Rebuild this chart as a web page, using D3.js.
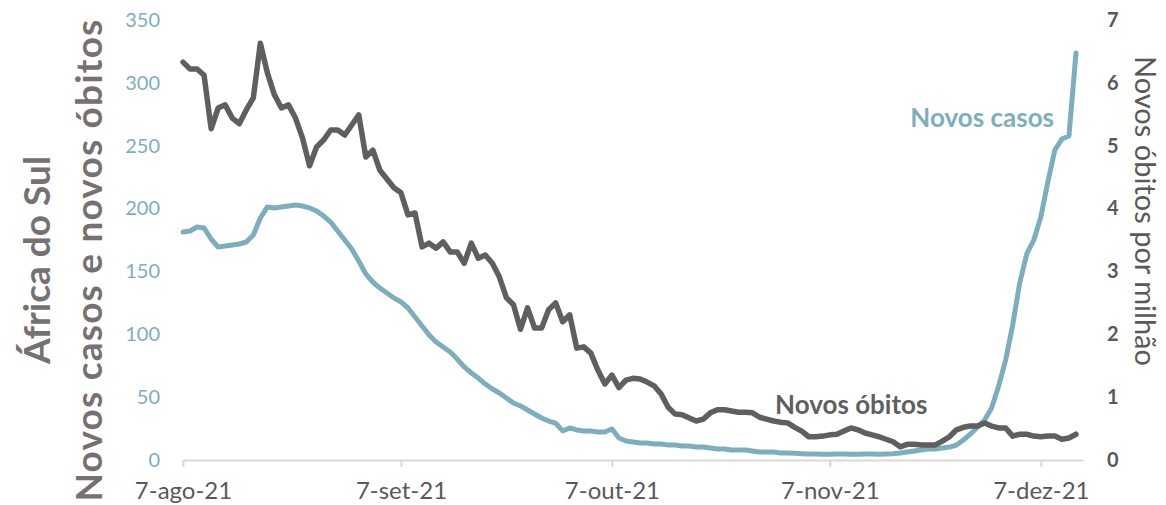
<!DOCTYPE html>
<html>
<head>
<meta charset="utf-8">
<script src="https://cdn.jsdelivr.net/npm/d3@7"></script>
<style>
  html, body { margin: 0; padding: 0; background: #fff; }
  svg { display: block; font-family: Lato, "Open Sans", sans-serif; }
</style>
</head>
<body>
<svg id="chart" width="1166" height="505"></svg>
<script>
// Daily series for South Africa, 7 Aug 2021 onward (one value per day)
const startDate = Date.UTC(2021, 7, 7);

// New cases (left axis)
const novosCasos = [
  181.4, 182.2, 185.3, 184.5, 175.8, 169.4, 170.2, 171.0, 171.8, 173.4,
  179.0, 192.5, 201.3, 200.5, 201.3, 202.0, 202.8, 202.0, 200.5, 198.1,
  194.1, 189.3, 182.2, 175.0, 167.8, 158.3, 148.0, 141.6, 136.8, 132.8,
  128.9, 125.7, 120.9, 113.8, 106.6, 99.4, 93.9, 89.9, 85.9, 80.3,
  74.0, 69.2, 65.2, 60.4, 56.5, 53.3, 49.3, 45.3, 43.0, 39.8,
  36.6, 33.4, 31.0, 29.4, 23.1, 25.5, 23.9, 23.1, 23.1, 22.3,
  22.3, 24.7, 17.5, 15.1, 14.3, 13.5, 13.5, 12.7, 12.7, 11.9,
  11.9, 11.1, 11.1, 10.3, 10.3, 9.5, 8.8, 8.8, 8.0, 8.0,
  8.0, 7.2, 6.4, 6.4, 6.4, 5.6, 5.5, 5.3, 5.0, 4.8,
  4.8, 4.6, 4.6, 4.8, 4.8, 4.6, 4.6, 4.8, 4.8, 4.6,
  4.8, 5.0, 5.6, 6.4, 7.2, 8.0, 8.8, 8.8, 9.5, 10.3,
  11.9, 15.9, 20.7, 26.3, 31.8, 41.4, 58.9, 79.5, 107.4, 140.8,
  163.9, 175.0, 193.3, 221.1, 246.6, 255.3, 257.7, 323.8
];

// New deaths per million (right axis)
const novosObitos = [
  6.33, 6.22, 6.22, 6.12, 5.27, 5.60, 5.65, 5.44, 5.35, 5.57,
  5.76, 6.63, 6.16, 5.81, 5.60, 5.65, 5.44, 5.12, 4.68, 4.98,
  5.09, 5.25, 5.25, 5.17, 5.33, 5.49, 4.82, 4.93, 4.61, 4.47,
  4.33, 4.25, 3.90, 3.93, 3.39, 3.45, 3.37, 3.47, 3.31, 3.31,
  3.13, 3.45, 3.21, 3.26, 3.13, 2.91, 2.58, 2.47, 2.08, 2.42,
  2.10, 2.10, 2.39, 2.50, 2.20, 2.31, 1.78, 1.80, 1.70, 1.43,
  1.21, 1.35, 1.15, 1.27, 1.30, 1.29, 1.24, 1.18, 1.05, 0.84,
  0.73, 0.72, 0.67, 0.62, 0.65, 0.75, 0.80, 0.80, 0.78, 0.76,
  0.76, 0.75, 0.68, 0.65, 0.62, 0.60, 0.59, 0.52, 0.46, 0.37,
  0.37, 0.38, 0.40, 0.41, 0.46, 0.51, 0.48, 0.43, 0.40, 0.37,
  0.33, 0.29, 0.21, 0.25, 0.25, 0.24, 0.24, 0.24, 0.30, 0.37,
  0.48, 0.52, 0.54, 0.54, 0.59, 0.54, 0.51, 0.51, 0.38, 0.41,
  0.41, 0.38, 0.37, 0.38, 0.38, 0.33, 0.35, 0.41
];

const leftTicks = [0, 50, 100, 150, 200, 250, 300, 350];
const rightTicks = [0, 1, 2, 3, 4, 5, 6, 7];
const tickDates = [
  Date.UTC(2021, 7, 7), Date.UTC(2021, 8, 7), Date.UTC(2021, 9, 7),
  Date.UTC(2021, 10, 7), Date.UTC(2021, 11, 7)
];
const mesesPt = ["jan", "fev", "mar", "abr", "mai", "jun", "jul", "ago", "set", "out", "nov", "dez"];

const DAY = 86400000;
const dates = novosCasos.map((_, i) => new Date(startDate + i * DAY));

const colTeal = "#7eaebc";
const colDark = "#5f5f5f";
const colTitle = "#767171";
const colTick = "#595959";

const svg = d3.select("#chart");

const x = d3.scaleUtc()
  .domain([new Date(startDate), new Date(Date.UTC(2021, 11, 13))])
  .range([183, 1083]);
const yL = d3.scaleLinear().domain([0, 350]).range([460, 20]);
const yR = d3.scaleLinear().domain([0, 7]).range([460, 20]);

// Bottom axis
const xAxis = d3.axisBottom(x)
  .tickValues(tickDates.map(t => new Date(t)))
  .tickSize(7)
  .tickSizeOuter(0)
  .tickFormat(d => `${d.getUTCDate()}-${mesesPt[d.getUTCMonth()]}-21`);

const gx = svg.append("g").attr("transform", "translate(0,460)").call(xAxis);
gx.select(".domain").attr("stroke", "#d9d9d9").attr("stroke-width", 2);
gx.selectAll(".tick line").attr("stroke", "#d9d9d9").attr("stroke-width", 2);
gx.selectAll(".tick text")
  .attr("y", 39).attr("dy", 0)
  .attr("fill", colTick)
  .style("font-size", "24px")
  .style("font-family", "Lato, sans-serif");

// Left axis (cases)
const gl = svg.append("g").attr("transform", "translate(164,0)")
  .call(d3.axisLeft(yL).tickValues(leftTicks).tickSize(0).tickPadding(4));
gl.select(".domain").remove();
gl.selectAll(".tick text")
  .attr("fill", colTeal)
  .style("font-size", "20px")
  .style("font-family", "Lato, sans-serif");

// Right axis (deaths per million)
const gr = svg.append("g").attr("transform", "translate(1104,0)")
  .call(d3.axisRight(yR).tickValues(rightTicks).tickSize(0).tickPadding(3)
    .tickFormat(d3.format("d")));
gr.select(".domain").remove();
gr.selectAll(".tick text")
  .attr("fill", colTick)
  .style("font-size", "20px")
  .style("font-weight", "bold")
  .style("font-family", "Lato, sans-serif");

// Lines
const lineCasos = d3.line()
  .x((d, i) => x(dates[i]))
  .y(d => yL(d));
const lineObitos = d3.line()
  .x((d, i) => x(dates[i]))
  .y(d => yR(d));

svg.append("path")
  .datum(novosCasos)
  .attr("d", lineCasos)
  .attr("fill", "none")
  .attr("stroke", colTeal)
  .attr("stroke-width", 5)
  .attr("stroke-linejoin", "round")
  .attr("stroke-linecap", "round");

svg.append("path")
  .datum(novosObitos)
  .attr("d", lineObitos)
  .attr("fill", "none")
  .attr("stroke", colDark)
  .attr("stroke-width", 5.5)
  .attr("stroke-linejoin", "round")
  .attr("stroke-linecap", "round");

// Series labels
svg.append("text")
  .attr("x", 1054).attr("y", 127)
  .attr("text-anchor", "end")
  .attr("fill", colTeal)
  .style("font-size", "26px")
  .style("font-weight", "bold")
  .text("Novos casos");

svg.append("text")
  .attr("x", 775).attr("y", 414)
  .attr("fill", colDark)
  .style("font-size", "26px")
  .style("font-weight", "bold")
  .text("Novos óbitos");

// Left axis titles
const leftTitle = svg.append("g")
  .attr("transform", "translate(0,260) rotate(-90)");
leftTitle.append("text")
  .attr("x", 0).attr("y", 50)
  .attr("text-anchor", "middle")
  .attr("fill", colTitle)
  .style("font-size", "37px")
  .style("font-weight", "bold")
  .text("África do Sul");
leftTitle.append("text")
  .attr("x", 0).attr("y", 102)
  .attr("text-anchor", "middle")
  .attr("fill", colTitle)
  .style("font-size", "37px")
  .style("font-weight", "bold")
  .style("letter-spacing", "1.2px")
  .text("Novos casos e novos óbitos");

// Right axis title
svg.append("text")
  .attr("transform", "translate(1135,211) rotate(90)")
  .attr("text-anchor", "middle")
  .attr("fill", colTick)
  .style("font-size", "29px")
  .text("Novos óbitos por milhão");
</script>
</body>
</html>
